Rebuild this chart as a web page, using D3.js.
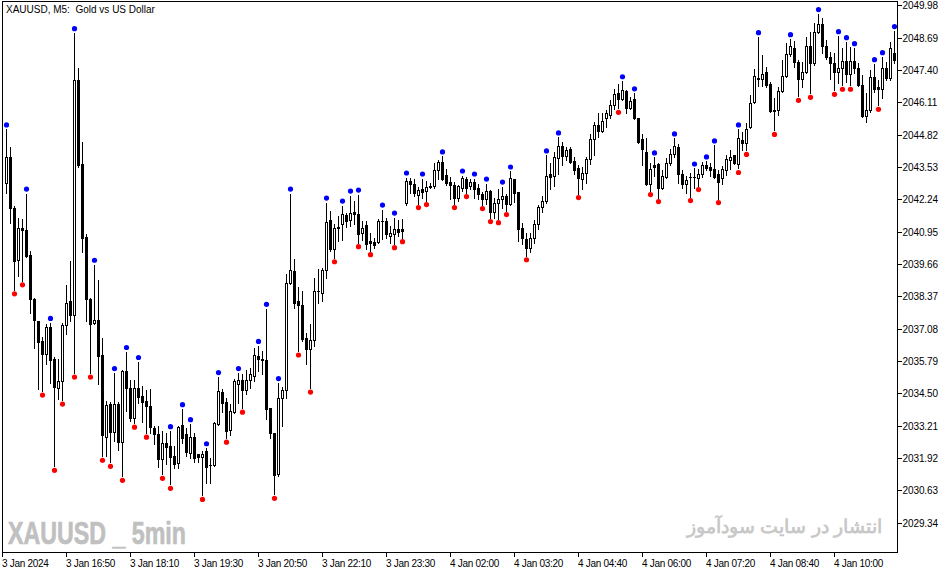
<!DOCTYPE html>
<html>
<head>
<meta charset="utf-8">
<script src="https://cdn.jsdelivr.net/npm/d3@7"></script>
<style>
  html, body { margin: 0; padding: 0; background: #fff; }
  svg { display: block; }
  text { font-family: "Liberation Sans", Arial, sans-serif; }
</style>
</head>
<body>
<script>

// XAUUSD M5, one value per bar (left to right)
var opens = [
  2042.91, 2043.91, 2041.91, 2039.83, 2041.11, 2041.03, 2040.03, 2038.27, 2037.39, 2036.59,
  2036.07, 2037.15, 2035.87, 2034.71, 2034.99, 2037.23, 2038.19, 2037.63, 2046.99, 2043.63,
  2040.75, 2038.27, 2037.31, 2037.43, 2036.03, 2032.75, 2034.07, 2032.95, 2034.07, 2032.55,
  2035.39, 2034.71, 2033.51, 2034.71, 2034.39, 2034.19, 2033.99, 2033.11, 2032.87, 2031.87,
  2032.51, 2032.39, 2031.99, 2031.71, 2033.23, 2032.87, 2032.11, 2032.75, 2032.07, 2031.95,
  2032.19, 2031.63, 2031.63, 2033.27, 2034.55, 2034.15, 2033.03, 2033.75, 2034.87, 2035.03,
  2034.63, 2035.03, 2035.19, 2035.99, 2035.87, 2035.83, 2033.91, 2032.91, 2031.27, 2034.31,
  2034.63, 2038.91, 2039.39, 2038.19, 2038.03, 2036.71, 2036.27, 2036.63, 2038.59, 2038.51,
  2039.43, 2041.43, 2040.27, 2041.11, 2041.27, 2041.63, 2041.43, 2041.75, 2041.67, 2040.91,
  2041.23, 2040.59, 2040.55, 2040.55, 2041.39, 2041.39, 2040.79, 2040.87, 2041.07, 2041.07,
  2042.11, 2042.99, 2042.87, 2042.43, 2042.67, 2042.59, 2042.75, 2042.79, 2043.39, 2043.71,
  2043.23, 2042.95, 2042.83, 2042.31, 2042.71, 2043.07, 2042.79, 2042.95, 2042.71, 2042.47,
  2042.27, 2042.59, 2041.75, 2042.11, 2042.27, 2042.39, 2042.07, 2043.07, 2042.55, 2041.11,
  2040.67, 2040.31, 2040.71, 2041.27, 2041.95, 2042.19, 2043.27, 2043.19, 2043.87, 2044.35,
  2043.95, 2044.23, 2043.75, 2043.47, 2043.07, 2043.31, 2043.83, 2044.63, 2045.19, 2044.95,
  2045.47, 2045.59, 2045.99, 2046.47, 2046.23, 2046.55, 2045.87, 2046.23, 2045.47, 2044.63,
  2044.11, 2042.87, 2043.59, 2043.63, 2042.71, 2043.15, 2043.67, 2044.03, 2044.31, 2043.27,
  2042.87, 2043.15, 2043.15, 2043.11, 2043.27, 2043.59, 2043.51, 2043.43, 2043.27, 2043.11,
  2043.39, 2043.79, 2043.99, 2043.63, 2044.59, 2044.47, 2045.11, 2046.11, 2047.07, 2047.03,
  2047.31, 2046.83, 2045.79, 2045.79, 2046.55, 2047.15, 2048.03, 2048.27, 2047.71, 2047.03,
  2047.31, 2048.35, 2047.67, 2048.91, 2049.23, 2048.35, 2047.91, 2047.67, 2047.31, 2047.47,
  2047.75, 2047.23, 2047.75, 2047.47, 2046.79, 2045.55, 2045.79, 2047.11, 2046.71, 2046.63,
  2047.47, 2047.07, 2048.07
];

var highs = [
  2045.03, 2044.31, 2041.99, 2041.51, 2041.47, 2042.47, 2040.19, 2038.31, 2037.39, 2036.75,
  2037.27, 2037.31, 2035.95, 2035.87, 2037.31, 2038.83, 2039.79, 2048.87, 2047.47, 2044.51,
  2040.87, 2038.31, 2039.63, 2039.03, 2036.71, 2034.19, 2034.15, 2035.31, 2034.15, 2035.43,
  2036.15, 2035.03, 2035.03, 2035.75, 2034.79, 2034.63, 2034.67, 2033.19, 2033.19, 2032.99,
  2032.91, 2032.99, 2032.39, 2033.19, 2033.87, 2033.11, 2033.27, 2032.91, 2032.07, 2032.19,
  2032.31, 2031.91, 2033.35, 2035.15, 2034.67, 2034.31, 2034.07, 2035.07, 2035.31, 2035.27,
  2035.43, 2035.51, 2036.31, 2036.39, 2036.19, 2037.87, 2033.91, 2032.91, 2034.91, 2034.75,
  2039.27, 2042.47, 2039.87, 2038.75, 2038.59, 2036.91, 2037.27, 2039.11, 2039.47, 2039.51,
  2042.11, 2041.79, 2041.27, 2041.59, 2041.99, 2041.71, 2042.39, 2042.19, 2042.43, 2041.39,
  2041.39, 2040.91, 2040.71, 2041.47, 2041.83, 2041.51, 2041.19, 2041.51, 2041.43, 2041.47,
  2043.11, 2043.11, 2043.07, 2042.75, 2043.07, 2042.99, 2042.91, 2043.67, 2043.79, 2043.95,
  2043.43, 2043.15, 2042.95, 2042.83, 2043.19, 2043.15, 2043.07, 2043.07, 2042.87, 2042.55,
  2042.87, 2042.63, 2042.31, 2042.67, 2042.75, 2042.47, 2043.35, 2043.07, 2042.55, 2041.31,
  2040.91, 2040.91, 2041.43, 2042.03, 2042.39, 2043.99, 2043.67, 2044.11, 2044.71, 2044.51,
  2044.31, 2044.31, 2043.91, 2043.59, 2043.51, 2043.91, 2044.83, 2045.31, 2045.67, 2045.67,
  2045.79, 2046.19, 2046.63, 2046.83, 2046.95, 2046.59, 2046.31, 2046.47, 2045.47, 2044.83,
  2044.67, 2043.67, 2043.91, 2043.67, 2043.39, 2043.87, 2044.23, 2044.67, 2044.43, 2043.39,
  2043.19, 2043.31, 2043.47, 2043.43, 2043.71, 2043.75, 2043.67, 2044.39, 2043.39, 2043.55,
  2043.99, 2044.19, 2043.99, 2045.03, 2044.91, 2045.27, 2046.39, 2047.43, 2048.71, 2047.99,
  2047.51, 2046.91, 2046.27, 2046.71, 2047.79, 2048.47, 2048.63, 2048.55, 2047.79, 2047.71,
  2048.71, 2048.91, 2049.27, 2049.63, 2049.47, 2048.59, 2048.11, 2048.07, 2048.75, 2048.27,
  2048.51, 2048.31, 2048.27, 2047.67, 2047.19, 2046.47, 2047.39, 2047.63, 2046.99, 2047.91,
  2047.71, 2048.51, 2048.95
];

var lows = [
  2042.51, 2041.31, 2038.63, 2039.19, 2038.99, 2039.95, 2037.71, 2036.31, 2034.67, 2034.59,
  2035.67, 2034.91, 2031.59, 2034.27, 2034.23, 2036.87, 2037.39, 2035.31, 2043.51, 2040.15,
  2037.39, 2035.31, 2037.27, 2034.87, 2031.99, 2031.99, 2031.75, 2032.59, 2032.23, 2031.19,
  2033.79, 2033.39, 2033.31, 2034.11, 2033.35, 2032.91, 2032.91, 2032.47, 2031.55, 2031.27,
  2031.67, 2030.87, 2031.51, 2031.51, 2032.51, 2031.99, 2031.91, 2031.75, 2031.75, 2030.43,
  2030.91, 2030.91, 2031.59, 2033.23, 2033.75, 2032.71, 2032.83, 2033.71, 2034.11, 2033.91,
  2034.47, 2034.71, 2034.99, 2035.39, 2035.27, 2033.47, 2032.71, 2030.47, 2031.19, 2033.19,
  2034.31, 2038.87, 2037.91, 2036.19, 2036.59, 2035.67, 2034.71, 2036.39, 2038.11, 2038.19,
  2039.11, 2040.19, 2039.91, 2040.59, 2040.63, 2041.15, 2041.19, 2041.27, 2040.51, 2040.63,
  2040.27, 2040.19, 2040.31, 2040.51, 2040.67, 2040.71, 2040.51, 2040.47, 2040.79, 2040.71,
  2042.03, 2042.51, 2042.39, 2042.07, 2042.31, 2042.19, 2042.71, 2042.71, 2043.07, 2043.03,
  2042.83, 2042.27, 2042.07, 2042.19, 2042.59, 2042.51, 2042.67, 2042.31, 2042.27, 2042.03,
  2042.07, 2041.51, 2041.51, 2041.47, 2041.91, 2041.79, 2042.03, 2042.15, 2040.59, 2040.47,
  2039.99, 2040.15, 2040.51, 2041.07, 2041.75, 2042.11, 2042.67, 2042.79, 2043.27, 2043.59,
  2043.79, 2043.67, 2043.27, 2042.47, 2042.67, 2042.91, 2043.63, 2043.99, 2044.71, 2044.91,
  2045.11, 2045.47, 2045.83, 2045.87, 2046.19, 2045.67, 2045.83, 2045.43, 2044.47, 2043.59,
  2042.83, 2042.59, 2043.19, 2042.31, 2042.67, 2043.11, 2043.59, 2043.91, 2042.91, 2042.71,
  2042.51, 2042.35, 2042.71, 2042.79, 2043.15, 2043.39, 2043.19, 2043.11, 2042.27, 2042.87,
  2043.23, 2043.43, 2043.63, 2043.47, 2044.19, 2044.19, 2045.07, 2046.07, 2046.75, 2046.75,
  2046.71, 2045.71, 2044.99, 2045.59, 2046.51, 2047.11, 2047.95, 2047.51, 2046.35, 2046.71,
  2047.27, 2046.47, 2047.59, 2048.87, 2048.07, 2047.83, 2047.03, 2046.59, 2046.87, 2046.79,
  2046.91, 2046.79, 2047.27, 2046.75, 2045.51, 2045.31, 2045.71, 2046.51, 2045.99, 2046.27,
  2046.99, 2046.99, 2047.67
];

var closes = [
  2043.91, 2041.91, 2039.79, 2041.11, 2041.03, 2039.99, 2038.27, 2037.43, 2036.55, 2036.07,
  2037.15, 2035.83, 2034.75, 2034.99, 2037.23, 2038.11, 2037.63, 2046.99, 2043.59, 2040.71,
  2038.27, 2037.27, 2037.43, 2035.99, 2032.83, 2034.03, 2032.95, 2034.07, 2032.55, 2035.39,
  2034.71, 2033.51, 2034.71, 2034.35, 2034.15, 2033.99, 2033.15, 2032.87, 2031.87, 2032.51,
  2032.35, 2031.95, 2031.67, 2033.15, 2032.71, 2032.15, 2032.75, 2031.91, 2031.95, 2032.07,
  2031.55, 2031.63, 2033.31, 2034.59, 2034.11, 2032.99, 2033.79, 2034.99, 2035.03, 2034.63,
  2035.03, 2035.27, 2036.03, 2035.87, 2035.83, 2033.87, 2032.91, 2031.23, 2034.31, 2034.63,
  2038.91, 2039.43, 2038.11, 2038.03, 2036.67, 2036.27, 2036.63, 2038.59, 2038.59, 2039.43,
  2041.35, 2040.27, 2041.11, 2041.15, 2041.67, 2041.39, 2041.71, 2041.67, 2040.87, 2041.11,
  2040.47, 2040.51, 2040.43, 2041.39, 2041.39, 2040.87, 2040.91, 2041.07, 2040.95, 2040.99,
  2042.99, 2042.87, 2042.51, 2042.63, 2042.55, 2042.75, 2042.79, 2043.39, 2043.71, 2043.07,
  2042.91, 2042.83, 2042.31, 2042.79, 2043.11, 2042.71, 2042.95, 2042.67, 2042.47, 2042.27,
  2042.59, 2041.75, 2042.11, 2042.27, 2042.39, 2042.07, 2043.11, 2042.51, 2041.07, 2040.71,
  2040.31, 2040.71, 2041.27, 2041.95, 2042.19, 2043.19, 2043.15, 2043.91, 2044.35, 2043.95,
  2044.19, 2043.71, 2043.39, 2043.11, 2043.31, 2043.83, 2044.63, 2045.19, 2044.95, 2045.35,
  2045.67, 2045.99, 2046.43, 2046.23, 2046.59, 2045.87, 2046.15, 2045.47, 2044.51, 2044.23,
  2042.87, 2043.43, 2043.51, 2042.71, 2043.19, 2043.67, 2044.03, 2044.35, 2043.27, 2042.87,
  2043.03, 2043.15, 2043.15, 2043.27, 2043.59, 2043.47, 2043.39, 2043.15, 2042.95, 2043.43,
  2043.83, 2043.91, 2043.67, 2044.67, 2044.47, 2045.03, 2046.07, 2047.15, 2047.03, 2047.23,
  2046.79, 2045.75, 2045.75, 2046.55, 2047.15, 2048.03, 2048.35, 2047.71, 2047.03, 2047.31,
  2048.35, 2047.67, 2048.91, 2049.23, 2048.35, 2047.91, 2047.67, 2047.31, 2047.47, 2047.75,
  2047.23, 2047.75, 2047.47, 2046.79, 2045.55, 2045.79, 2047.11, 2046.63, 2046.63, 2047.47,
  2047.07, 2048.27, 2047.79
];

// bars carrying a swing-high (blue) / swing-low (red) mark
var upMarks = [0, 5, 11, 17, 22, 27, 30, 33, 41, 44, 46, 50, 53, 58, 63, 65, 68, 71, 80, 84,
  86, 88, 94, 97, 100, 104, 109, 114, 117, 120, 124, 126, 135, 138, 154, 157, 162, 167, 172,
  175, 177, 183, 188, 196, 203, 208, 210, 212, 217, 219, 222];
var downMarks = [2, 4, 9, 12, 14, 17, 21, 24, 26, 29, 32, 35, 39, 41, 49, 55, 59, 67, 73, 76,
  82, 88, 91, 97, 99, 103, 105, 112, 115, 119, 121, 123, 125, 130, 143, 153, 161, 163, 171,
  173, 178, 183, 185, 192, 198, 201, 207, 209, 211, 218];

var priceTicks = [2049.98, 2048.69, 2047.40, 2046.11, 2044.82, 2043.53, 2042.24, 2040.95,
  2039.66, 2038.37, 2037.08, 2035.79, 2034.50, 2033.21, 2031.92, 2030.63, 2029.34];

var timeLabels = ["3 Jan 2024", "3 Jan 16:50", "3 Jan 18:10", "3 Jan 19:30", "3 Jan 20:50",
  "3 Jan 22:10", "3 Jan 23:30", "4 Jan 02:00", "4 Jan 03:20", "4 Jan 04:40", "4 Jan 06:00",
  "4 Jan 07:20", "4 Jan 08:40", "4 Jan 10:00"];
var timeTickBars = [-1, 15, 31, 47, 63, 79, 95, 111, 127, 143, 159, 175, 191, 207];

function drawChart() {
    var W = 951, H = 574;
    var N = closes.length;

    var svg = d3.select("body").append("svg")
        .attr("width", W)
        .attr("height", H);

    var x = d3.scaleLinear().domain([0, N - 1]).range([6.5, 6.5 + 4 * (N - 1)]);
    var y = d3.scaleLinear().domain([2029.34, 2049.98]).range([522.7, 5.3]);

    function py(v) { return Math.round(y(v)); }

    // frame
    svg.append("rect")
        .attr("x", 2.5).attr("y", 1.5)
        .attr("width", 895).attr("height", 551)
        .attr("fill", "none").attr("stroke", "#000").attr("stroke-width", 1);

    // watermarks
    svg.append("text")
        .attr("x", 8).attr("y", 544)
        .attr("font-family", "'DejaVu Sans Condensed', 'Liberation Sans Narrow', 'DejaVu Sans', sans-serif")
        .attr("font-weight", "bold")
        .attr("font-size", 32)
        .attr("fill", "#c0c0c0")
        .attr("stroke", "#c0c0c0")
        .attr("stroke-width", 0.7)
        .attr("textLength", 178)
        .attr("lengthAdjust", "spacingAndGlyphs")
        .text("XAUUSD _ 5min");

    svg.append("text")
        .attr("x", 882).attr("y", 533)
        .attr("text-anchor", "start")
        .attr("direction", "rtl")
        .attr("font-family", "'DejaVu Sans', sans-serif")
        .attr("font-size", 19)
        .attr("font-weight", "bold")
        .attr("fill", "#c8c8c8")
        .text("انتشار در سایت سودآموز");

    // title
    svg.append("text")
        .attr("x", 6).attr("y", 13)
        .attr("font-size", 10)
        .attr("fill", "#000")
        .style("white-space", "pre")
        .text("XAUUSD, M5:  Gold vs US Dollar");

    // price axis
    var pax = svg.append("g");
    priceTicks.forEach(function (p) {
        var ty = py(p) + 0.5;
        pax.append("line")
            .attr("x1", 898).attr("x2", 902)
            .attr("y1", ty).attr("y2", ty)
            .attr("stroke", "#000");
        pax.append("text")
            .attr("x", 902.5).attr("y", ty)
            .attr("dy", "0.35em")
            .attr("font-size", 10)
            .attr("letter-spacing", -0.1)
            .text(p.toFixed(2));
    });

    // time axis
    var tax = svg.append("g");
    timeTickBars.forEach(function (b, k) {
        var tx = Math.floor(x(b)) + 0.5;
        tax.append("line")
            .attr("x1", tx).attr("x2", tx)
            .attr("y1", 553).attr("y2", 557)
            .attr("stroke", "#000");
        tax.append("text")
            .attr("x", tx - 0.5).attr("y", 567)
            .attr("font-size", 10)
            .attr("letter-spacing", -0.3)
            .text(timeLabels[k]);
    });

    // candles: wick first, body on top
    var cg = svg.append("g");
    for (var i = 0; i < N; i++) {
        var cx = Math.floor(x(i)) + 0.5;
        var yo = py(opens[i]), yc = py(closes[i]);
        var bTop = Math.min(yo, yc), bBot = Math.max(yo, yc);

        cg.append("line")
            .attr("x1", cx).attr("x2", cx)
            .attr("y1", py(highs[i])).attr("y2", py(lows[i]) + 1)
            .attr("stroke", "#000").attr("stroke-width", 1);

        if (bBot - bTop < 1) {
            cg.append("line")
                .attr("x1", cx - 1.5).attr("x2", cx + 1.5)
                .attr("y1", bTop + 0.5).attr("y2", bTop + 0.5)
                .attr("stroke", "#000");
        } else if (closes[i] > opens[i]) {
            cg.append("rect")
                .attr("x", cx - 1).attr("y", bTop + 0.5)
                .attr("width", 2).attr("height", bBot - bTop)
                .attr("fill", "#fff").attr("stroke", "#000").attr("stroke-width", 1);
        } else {
            cg.append("rect")
                .attr("x", cx - 1.5).attr("y", bTop)
                .attr("width", 3).attr("height", bBot - bTop + 1)
                .attr("fill", "#000");
        }
    }

    // marks
    svg.append("g").selectAll("circle")
        .data(upMarks)
        .join("circle")
        .attr("cx", function (d) { return x(d); })
        .attr("cy", function (d) { return y(highs[d]) - 4.5; })
        .attr("r", 2.6)
        .attr("fill", "#0000ff");

    svg.append("g").selectAll("circle")
        .data(downMarks)
        .join("circle")
        .attr("cx", function (d) { return x(d); })
        .attr("cy", function (d) { return y(lows[d]) + 4; })
        .attr("r", 2.6)
        .attr("fill", "#ff0000");
}

drawChart();

</script>
</body>
</html>
